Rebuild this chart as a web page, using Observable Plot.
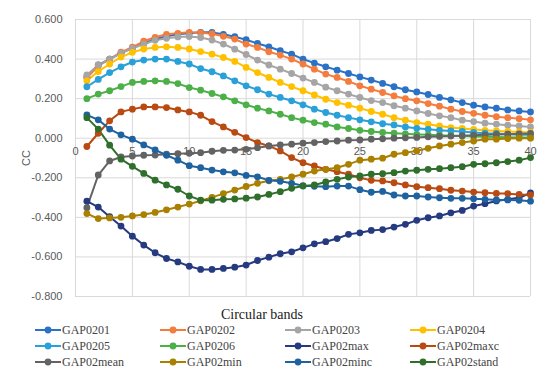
<!DOCTYPE html>
<html>
<head>
<meta charset="utf-8">
<script src="https://cdn.jsdelivr.net/npm/d3@7"></script>
<script src="https://cdn.jsdelivr.net/npm/@observablehq/plot@0.6"></script>
<style>
  html, body { margin: 0; padding: 0; background: #fff; }
  #wrap { width: 550px; }
  #xlabel { font-family: "Liberation Serif", serif; font-size: 14px; color: #222; text-align: center; width: 550px; padding-right: 26px; box-sizing: border-box; height: 18px; line-height: 18px; margin-top: 2px; }
  #legend { display: grid; grid-template-columns: 125px 125px 125px 125px; padding-left: 35px; margin-top: -2px; }
  .item { display: flex; align-items: center; height: 16px; font-family: "Liberation Serif", serif; font-size: 12px; color: #444; }
  .item svg { margin-right: 1px; }
</style>
</head>
<body>
<div id="wrap">
  <div id="chart"></div>
  <div id="xlabel">Circular bands</div>
  <div id="legend"></div>
</div>
<script>
const bands = d3.range(1, 41);
const seriesNames = ["GAP0201","GAP0202","GAP0203","GAP0204","GAP0205","GAP0206","GAP02max","GAP02maxc","GAP02mean","GAP02min","GAP02minc","GAP02stand"];
const seriesColors = ["#2a72c6","#f47c3c","#a5a5a5","#ffc000","#2aa0d8","#4cb048","#263a80","#b84a12","#636363","#a98000","#1f62a0","#2f6e2b"];
const xTicks = [0,5,10,15,20,25,30,35,40];
const yTicks = [-0.8,-0.6,-0.4,-0.2,0,0.2,0.4,0.6];

const GAP0201 = [0.31,0.37,0.40,0.43,0.455,0.48,0.50,0.515,0.525,0.53,0.535,0.535,0.525,0.513,0.498,0.479,0.462,0.442,0.425,0.40,0.38,0.361,0.344,0.327,0.31,0.294,0.277,0.26,0.245,0.234,0.221,0.206,0.194,0.18,0.167,0.158,0.152,0.143,0.138,0.133];
const GAP0202 = [0.305,0.365,0.40,0.435,0.46,0.49,0.51,0.525,0.53,0.535,0.533,0.528,0.515,0.501,0.476,0.459,0.437,0.42,0.40,0.375,0.349,0.324,0.307,0.287,0.265,0.248,0.231,0.214,0.20,0.189,0.175,0.162,0.147,0.135,0.126,0.116,0.109,0.104,0.099,0.093];
const GAP0203 = [0.32,0.37,0.40,0.43,0.455,0.475,0.495,0.505,0.512,0.514,0.509,0.496,0.476,0.45,0.423,0.395,0.37,0.349,0.327,0.304,0.282,0.258,0.24,0.223,0.206,0.19,0.18,0.164,0.152,0.138,0.125,0.113,0.104,0.091,0.084,0.076,0.071,0.066,0.062,0.057];
const GAP0204 = [0.29,0.337,0.375,0.41,0.434,0.451,0.459,0.462,0.459,0.451,0.438,0.425,0.408,0.388,0.358,0.332,0.307,0.282,0.261,0.24,0.219,0.197,0.18,0.167,0.152,0.135,0.121,0.104,0.091,0.079,0.071,0.062,0.054,0.049,0.044,0.04,0.037,0.034,0.032,0.029];
const GAP0205 = [0.26,0.297,0.332,0.361,0.385,0.395,0.40,0.40,0.388,0.375,0.352,0.336,0.315,0.29,0.265,0.245,0.223,0.206,0.189,0.169,0.147,0.13,0.116,0.104,0.093,0.083,0.073,0.067,0.057,0.05,0.045,0.04,0.037,0.034,0.029,0.025,0.024,0.02,0.018,0.017];
const GAP0206 = [0.20,0.223,0.24,0.261,0.282,0.287,0.29,0.287,0.276,0.256,0.243,0.226,0.209,0.189,0.169,0.152,0.138,0.121,0.104,0.091,0.079,0.071,0.057,0.049,0.04,0.034,0.029,0.025,0.022,0.019,0.017,0.015,0.013,0.011,0.009,0.007,0.006,0.005,0.004,0.003];
const GAP02max = [-0.318,-0.348,-0.397,-0.444,-0.495,-0.54,-0.579,-0.608,-0.625,-0.647,-0.663,-0.663,-0.658,-0.652,-0.641,-0.618,-0.601,-0.584,-0.574,-0.554,-0.534,-0.523,-0.507,-0.486,-0.478,-0.466,-0.462,-0.449,-0.435,-0.415,-0.402,-0.393,-0.377,-0.365,-0.343,-0.331,-0.317,-0.309,-0.301,-0.277];
const GAP02maxc = [-0.042,0.025,0.088,0.133,0.147,0.158,0.158,0.155,0.143,0.133,0.116,0.084,0.057,0.03,0.003,-0.022,-0.039,-0.064,-0.098,-0.124,-0.14,-0.157,-0.169,-0.182,-0.2,-0.213,-0.216,-0.225,-0.236,-0.245,-0.25,-0.255,-0.263,-0.267,-0.272,-0.275,-0.279,-0.28,-0.284,-0.287];
const GAP02mean = [-0.351,-0.186,-0.115,-0.095,-0.09,-0.086,-0.085,-0.081,-0.078,-0.076,-0.073,-0.066,-0.061,-0.06,-0.056,-0.048,-0.039,-0.034,-0.03,-0.025,-0.022,-0.017,-0.014,-0.01,-0.009,-0.005,-0.003,0.0,0.002,0.004,0.007,0.009,0.011,0.013,0.015,0.017,0.019,0.02,0.022,0.024];
const GAP02min = [-0.381,-0.406,-0.403,-0.40,-0.393,-0.386,-0.375,-0.362,-0.348,-0.333,-0.316,-0.299,-0.28,-0.262,-0.244,-0.228,-0.215,-0.208,-0.196,-0.182,-0.166,-0.157,-0.149,-0.132,-0.111,-0.106,-0.101,-0.081,-0.073,-0.064,-0.051,-0.039,-0.03,-0.022,-0.014,-0.005,-0.005,-0.002,0.0,0.0];
const GAP02minc = [0.118,0.093,0.046,0.017,-0.005,-0.034,-0.059,-0.086,-0.111,-0.139,-0.149,-0.161,-0.17,-0.175,-0.188,-0.195,-0.213,-0.218,-0.228,-0.24,-0.243,-0.245,-0.242,-0.242,-0.26,-0.273,-0.269,-0.287,-0.292,-0.292,-0.297,-0.301,-0.304,-0.304,-0.306,-0.309,-0.312,-0.312,-0.314,-0.318];
const GAP02stand = [0.104,0.046,-0.035,-0.106,-0.142,-0.178,-0.212,-0.236,-0.258,-0.292,-0.313,-0.313,-0.309,-0.307,-0.303,-0.297,-0.284,-0.27,-0.253,-0.242,-0.236,-0.221,-0.208,-0.196,-0.191,-0.182,-0.179,-0.174,-0.166,-0.162,-0.157,-0.154,-0.149,-0.144,-0.132,-0.129,-0.124,-0.118,-0.111,-0.098];

const seriesValues = [GAP0201,GAP0202,GAP0203,GAP0204,GAP0205,GAP0206,GAP02max,GAP02maxc,GAP02mean,GAP02min,GAP02minc,GAP02stand];

const rows = [];
seriesNames.forEach((name, i) => {
  seriesValues[i].forEach((v, j) => rows.push({series: name, band: bands[j], value: v}));
});

const fmt = d => d.toFixed(3);

const chart = Plot.plot({
  width: 550,
  height: 304,
  marginLeft: 75,
  marginRight: 20,
  marginTop: 19,
  marginBottom: 8,
  style: {fontFamily: "'Liberation Sans', sans-serif", fontSize: "11px", color: "#595959", background: "#fff"},
  x: {domain: [0, 40], axis: null},
  y: {domain: [-0.8, 0.6]},
  color: {domain: seriesNames, range: seriesColors},
  marks: [
    Plot.gridX(xTicks, {stroke: "#d9d9d9", strokeOpacity: 1, strokeWidth: 1}),
    Plot.gridY(yTicks, {stroke: "#d9d9d9", strokeOpacity: 1, strokeWidth: 1}),
    Plot.axisY(yTicks, {tickFormat: fmt, tickSize: 0, tickPadding: 13, fill: "#595959", fontSize: 11,
      label: "CC", labelAnchor: "center", labelArrow: "none", labelOffset: 53}),
    Plot.text(xTicks, {x: d => d, y: () => 0, text: d => String(d), dy: 13, fill: "#595959", fontSize: 11}),
    Plot.line(rows, {x: "band", y: "value", z: "series", stroke: "series", strokeWidth: 2}),
    Plot.dot(rows, {x: "band", y: "value", fill: "series", r: 3.4, stroke: "none"})
  ]
});
document.getElementById("chart").appendChild(chart);

const legend = d3.select("#legend");
seriesNames.forEach((name, i) => {
  const item = legend.append("div").attr("class", "item");
  const s = item.append("svg").attr("width", 26).attr("height", 10);
  s.append("line").attr("x1", 0).attr("x2", 26).attr("y1", 5).attr("y2", 5).attr("stroke", seriesColors[i]).attr("stroke-width", 2);
  s.append("circle").attr("cx", 13).attr("cy", 5).attr("r", 3.4).attr("fill", seriesColors[i]);
  item.append("span").text(name);
});
</script>
</body>
</html>
